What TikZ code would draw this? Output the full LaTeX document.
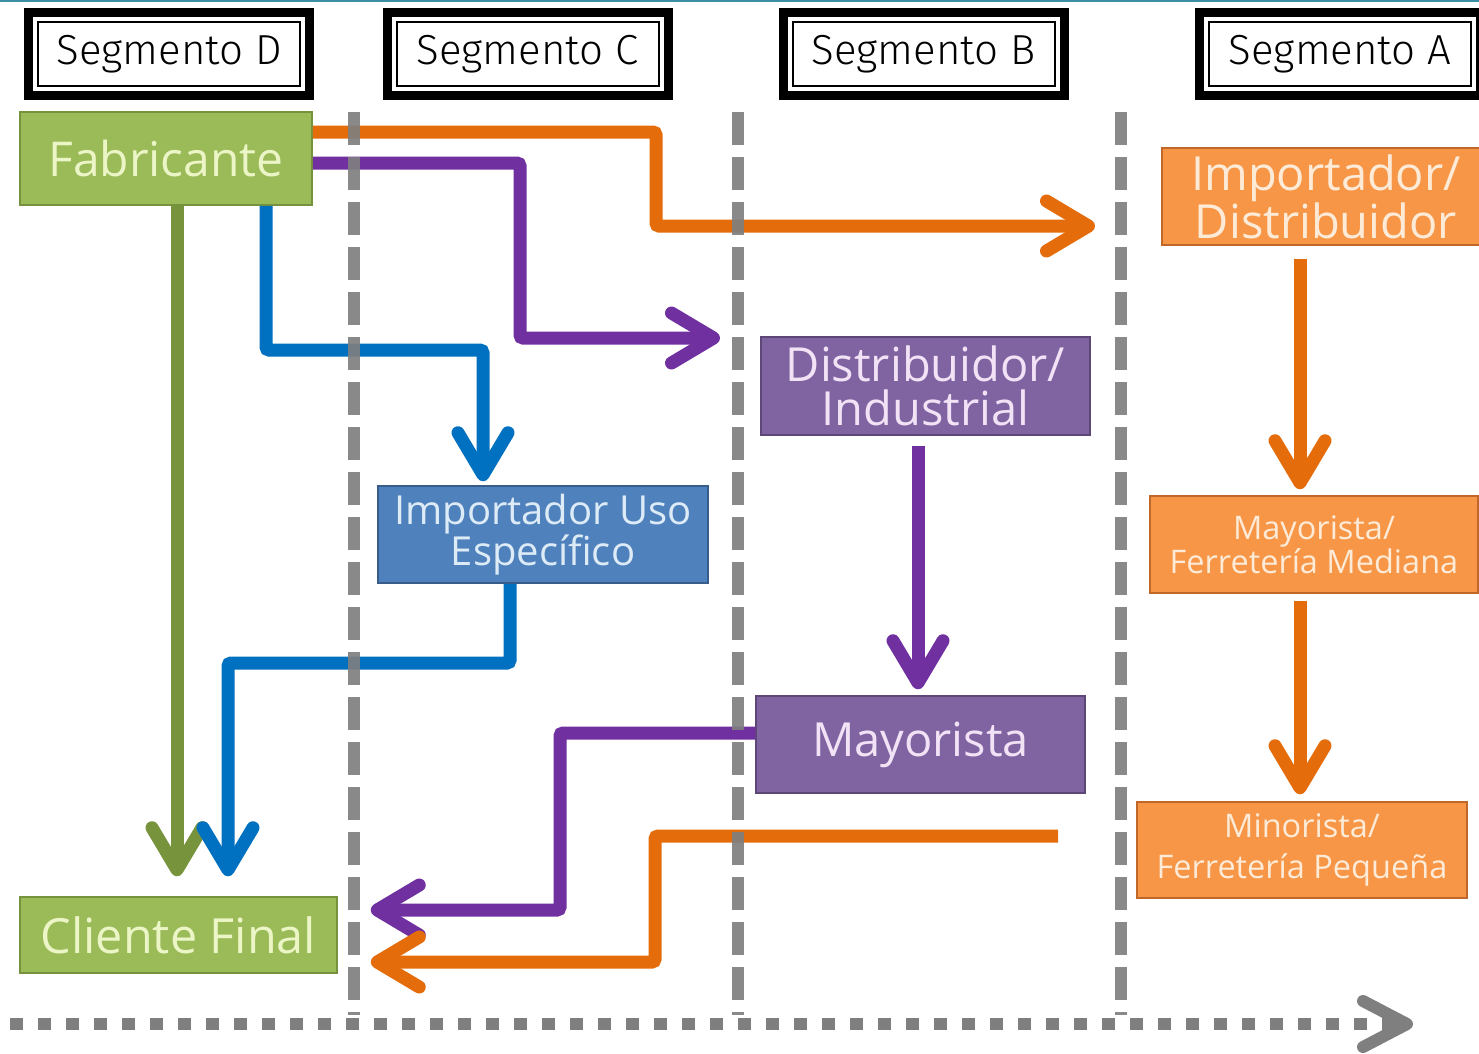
\documentclass[tikz,border=0pt]{standalone}
\usepackage{fontspec}
\setmainfont{Open Sans}
\newfontfamily\hdrfont{Fira Sans Light}
\usetikzlibrary{arrows.meta,calc}
\definecolor{gfill}{HTML}{9BBB59}
\definecolor{gdraw}{HTML}{76923C}
\definecolor{gtext}{HTML}{EBF5C6}
\definecolor{bfill}{HTML}{4F81BD}
\definecolor{bdraw}{HTML}{385D8A}
\definecolor{btext}{HTML}{DDEBF7}
\definecolor{pfill}{HTML}{8064A2}
\definecolor{pdraw}{HTML}{5C4776}
\definecolor{ptext}{HTML}{F2E2F6}
\definecolor{ofill}{HTML}{F79646}
\definecolor{odraw}{HTML}{C0672A}
\definecolor{otext}{HTML}{FDEBD8}
\definecolor{cor}{HTML}{E46C0A}
\definecolor{cpu}{HTML}{7030A0}
\definecolor{cbl}{HTML}{0070C0}
\definecolor{cgr}{HTML}{77933C}
\definecolor{segray}{HTML}{7F7F7F}
\definecolor{topline}{HTML}{3B8FA3}
\begin{document}
\begin{tikzpicture}[x=1pt,y=-1pt,
  hdr/.style={rectangle, fill=white, draw=black, line width=2pt, inner sep=0pt,
    minimum width=262pt, minimum height=64pt,
    preaction={draw=black, line width=28pt},
    preaction={draw=white, line width=10pt},
    font=\hdrfont\fontsize{42}{42}\selectfont},
  box/.style={rectangle, inner sep=0pt, line width=1.5pt, align=center},
  greenbox/.style={box, fill=gfill, draw=gdraw, text=gtext},
  bluebox/.style={box, fill=bfill, draw=bdraw, text=btext},
  purplebox/.style={box, fill=pfill, draw=pdraw, text=ptext},
  orangebox/.style={box, fill=ofill, draw=odraw, text=otext},
  conn/.style={line width=13pt, rounded corners=3pt,
    -{Straight Barb[length=42pt,width=50pt,round]}},
  segline/.style={draw=segray, line width=12pt, dash pattern=on 33pt off 12pt, opacity=0.92},
  axisline/.style={draw=segray, line width=12pt, dash pattern=on 13pt off 15pt,
    -{Straight Barb[length=44pt,width=46pt,round]}},
]
\useasboundingbox (0,0) rectangle (1479,1053);
\clip (0,0) rectangle (1479,1053);
\fill[white] (0,0) rectangle (1479,1053);
\draw[topline, line width=2pt] (0,1) -- (1479,1);

% headers
\node[hdr] (hD) at (169,54) {Segmento D};
\node[hdr] (hC) at (527.5,54) {Segmento C};
\node[hdr] (hB) at (923.5,54) {Segmento B};
\node[hdr] (hA) at (1340,54) {Segmento A};

% boxes
\node[greenbox, minimum width=292pt, minimum height=93pt,
  font=\fontsize{48}{48}\selectfont] (fab) at (166,158.5) {Fabricante};
\node[greenbox, minimum width=317pt, minimum height=76pt,
  font=\fontsize{48.5}{48}\selectfont] (cli) at (178.5,935) {Cliente Final};
\node[bluebox, minimum width=330pt, minimum height=97pt,
  font=\fontsize{40}{38}\selectfont] (imp) at (543,534.5) {Importador Uso\\Específico};
\node[purplebox, minimum width=329pt, minimum height=98pt,
  font=\fontsize{47}{44}\selectfont] (dist) at (925.5,386) {Distribuidor/\\Industrial};
\node[purplebox, minimum width=329pt, minimum height=97pt,
  font=\fontsize{47}{47}\selectfont] (may) at (920.5,744.5) {Mayorista};
\node[orangebox, minimum width=328pt, minimum height=97pt,
  font=\fontsize{47}{43}\selectfont] (impd) at (1326,196.5) {Importador/\\Distribuidor};
\node[orangebox, minimum width=328pt, minimum height=97pt,
  font=\fontsize{32.5}{30}\selectfont] (mfm) at (1314,544.5) {Mayorista/\\Ferretería Mediana};
\node[orangebox, minimum width=330pt, minimum height=96pt,
  font=\fontsize{32.5}{41}\selectfont] (mfp) at (1302,850) {Minorista/\\Ferretería Pequeña};

% free ends
\coordinate (o1end) at (1095,226);
\coordinate (p1end) at (720,338);
\coordinate (o2start) at (1058,836);

% connectors
\draw[conn, cor] (fab.east |- 0,132) -| (656,226) -- (o1end);
\draw[conn, cpu] (fab.east |- 0,163) -| (520,338) -- (p1end);
\draw[conn, cgr, shorten >=20pt] (fab.south -| 177,0) -- (cli.north -| 177,0);
\draw[conn, cbl, shorten >=4pt] (fab.south -| 266,0) |- (483,350) -- (imp.north -| 483,0);
\draw[conn, cbl, shorten >=20pt] (imp.south -| 510,0) |- (228,663) -- (cli.north -| 228,0);
\draw[conn, cpu, shorten <=10pt, shorten >=6pt] (dist.south -| 918,0) -- (may.north -| 918,0);
\draw[conn, cpu, shorten >=33pt] (may.west |- 0,733) -| (560,910) -- (cli.east |- 0,910);
\draw[conn, cor, shorten >=33pt] (o2start) -| (655,962) -- (cli.east |- 0,962);
\draw[conn, cor, shorten <=13pt, shorten >=6pt] (impd.south -| 1300,0) -- (mfm.north -| 1300,0);
\draw[conn, cor, shorten <=7pt, shorten >=7pt] (mfm.south -| 1300,0) -- (mfp.north -| 1300,0);

% segment separators
\draw[segline] (354,112) -- (354,1015);
\draw[segline] (738,112) -- (738,1015);
\draw[segline] (1121,112) -- (1121,1015);

% bottom axis
\coordinate (ax0) at (10,1024);
\coordinate (ax1) at (1413,1024);
\draw[axisline] (ax0) -- (ax1);
\end{tikzpicture}
\end{document}
